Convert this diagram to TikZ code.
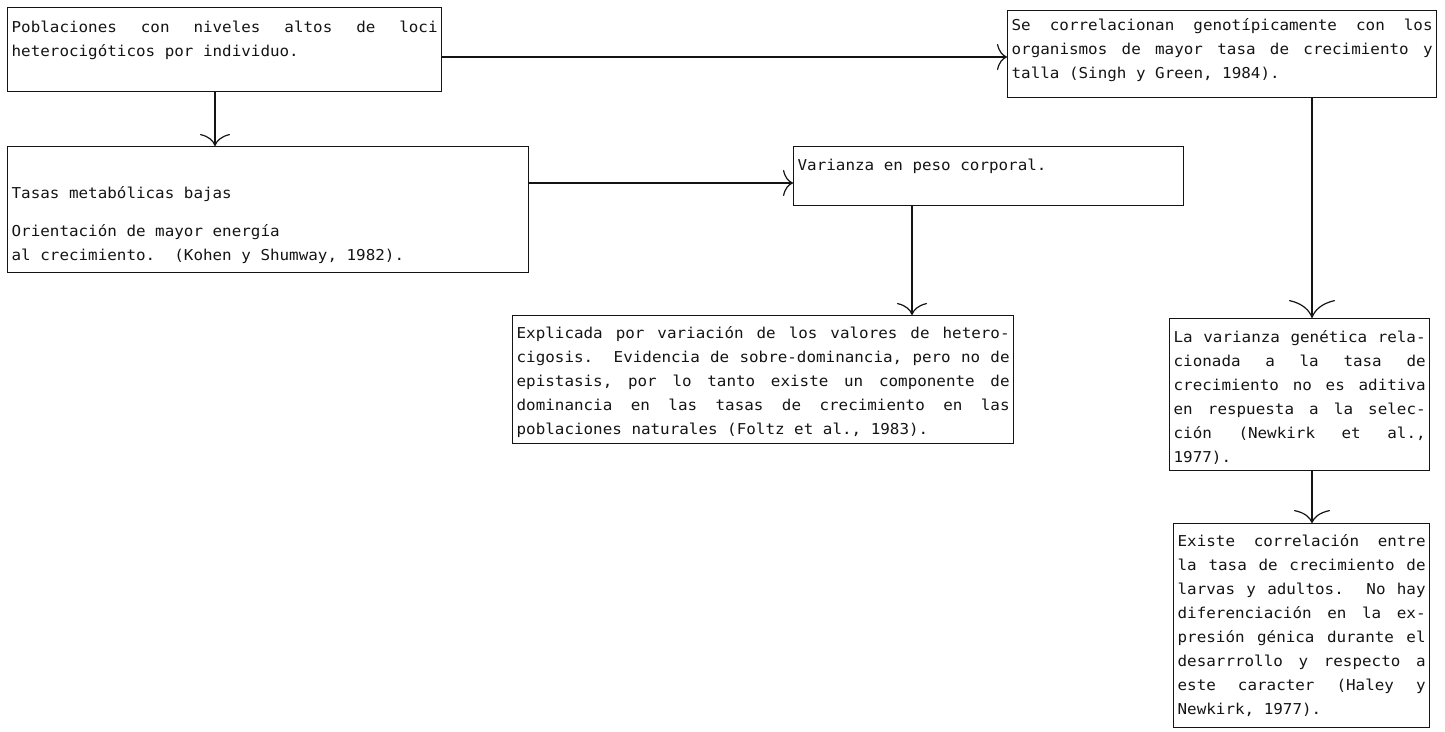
\documentclass[tikz,border=0pt]{standalone}
\usepackage{fontspec}
\newfontfamily\boxfont[FakeStretch=1.06]{DejaVu Sans Mono}
\usetikzlibrary{arrows.meta}
\definecolor{FlowInk}{HTML}{141414}
% text block of a box: width, height, top gap, text
\newcommand{\boxtxt}[4]{\parbox[t][#2][t]{#1}{\vspace*{#3}\frenchspacing
  \spaceskip=\fontdimen2\font plus 8em\relax #4}}

\begin{document}
\begin{tikzpicture}[x=1pt,y=-1pt,
    flowbox/.style={draw=FlowInk,line width=1.3pt,inner xsep=4pt,inner ysep=0pt,
      anchor=north west,text=FlowInk,font=\boxfont\fontsize{15pt}{24pt}\selectfont},
    flowarr/.style={draw=FlowInk,line width=1.2pt,-{Computer Modern Rightarrow[length=12pt,width=30pt]}},
    sidearr/.style={flowarr,-{Computer Modern Rightarrow[length=10pt,width=26pt]}},
    midarr/.style={flowarr,-{Computer Modern Rightarrow[length=13pt,width=36pt]}},
    bigarr/.style={flowarr,-{Computer Modern Rightarrow[length=18pt,width=46pt]}}]
  \useasboundingbox (0,0) rectangle (1445,731);
  % Top row
  \node[flowbox] (pob) at (7,7)
    {\boxtxt{426pt}{84pt}{13pt}{Poblaciones con niveles altos de loci\linebreak
     heterocigóticos por individuo.}};
  \node[flowbox] (se) at (1007,10)
    {\boxtxt{421pt}{87pt}{8pt}{Se correlacionan genotípicamente con los\linebreak
     organismos de mayor tasa de crecimiento y\linebreak
     talla (Singh y Green, 1984).}};
  % Middle row
  \node[flowbox] (tasas) at (7,146)
    {\boxtxt{513pt}{126pt}{40pt}{Tasas metabólicas bajas\par\vspace{14pt}
     Orientación de mayor energía\\
     al crecimiento.~ (Kohen y Shumway, 1982).}};
  \node[flowbox] (var) at (793,146)
    {\boxtxt{382pt}{59pt}{12pt}{Varianza en peso corporal.}};
  % Lower boxes
  \node[flowbox] (expl) at (512,315)
    {\boxtxt{493pt}{128pt}{11pt}{Explicada por variación de los valores de hetero-\linebreak
     cigosis.~ Evidencia de sobre-dominancia, pero no de\linebreak
     epistasis, por lo tanto existe un componente de\linebreak
     dominancia en las tasas de crecimiento en las\linebreak
     poblaciones naturales (Foltz et al., 1983).}};
  \node[flowbox] (lavar) at (1169,318)
    {\boxtxt{252pt}{152pt}{12pt}{La varianza genética rela-\linebreak
     cionada a la tasa de\linebreak
     crecimiento no es aditiva\linebreak
     en respuesta a la selec-\linebreak
     ción (Newkirk et al.,\linebreak
     1977).}};
  \node[flowbox] (existe) at (1173,523)
    {\boxtxt{248pt}{204pt}{11pt}{Existe correlación entre\linebreak
     la tasa de crecimiento de\linebreak
     larvas y adultos.~ No hay\linebreak
     diferenciación en la ex-\linebreak
     presión génica durante el\linebreak
     desarrrollo y respecto a\linebreak
     este caracter (Haley y\linebreak
     Newkirk, 1977).}};
  % Connectors
  \draw[flowarr] (pob.south -| 215,0) -- (tasas.north -| 215,0);
  \draw[sidearr] (pob.east |- 0,57) -- (se.west |- 0,57);
  \draw[sidearr] (tasas.east |- 0,183) -- (var.west |- 0,183);
  \draw[flowarr] (var.south -| 912,0) -- (expl.north -| 912,0);
  \draw[bigarr] (se.south -| 1312,0) -- (lavar.north -| 1312,0);
  \draw[midarr] (lavar.south -| 1312,0) -- (existe.north -| 1312,0);
\end{tikzpicture}
\end{document}
